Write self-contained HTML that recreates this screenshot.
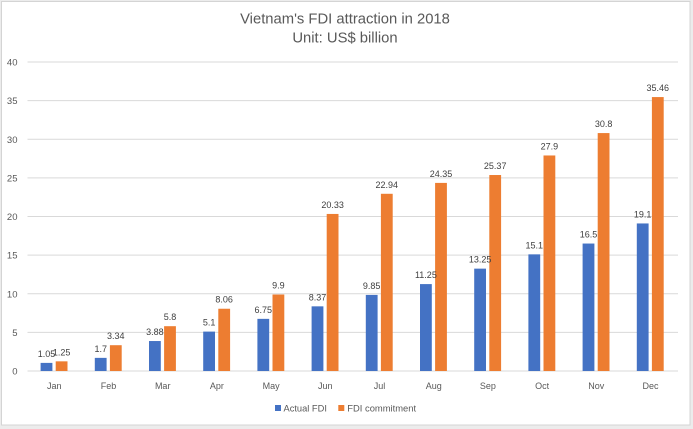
<!DOCTYPE html>
<html><head><meta charset="utf-8"><style>
html,body{margin:0;padding:0;background:#ececec;}
svg{display:block;}
text{font-family:"Liberation Sans",Arial,sans-serif;}
</style></head><body>
<svg width="693" height="429" viewBox="0 0 693 429" xmlns="http://www.w3.org/2000/svg">
<rect x="0" y="0" width="693" height="429" fill="#ececec"/>
<rect x="1.5" y="1.5" width="688.5" height="423.5" fill="#ffffff" stroke="#d4d4d4" stroke-width="1"/>
<text x="345" y="23.5" font-size="14.8" fill="#595959" text-anchor="middle">Vietnam's FDI attraction in 2018</text>
<text x="345" y="42.5" font-size="14.8" fill="#595959" text-anchor="middle">Unit: US$ billion</text>
<g stroke="#d9d9d9" stroke-width="1">
<line x1="27.5" y1="62" x2="678" y2="62"/>
<line x1="27.5" y1="100.6" x2="678" y2="100.6"/>
<line x1="27.5" y1="139.3" x2="678" y2="139.3"/>
<line x1="27.5" y1="177.9" x2="678" y2="177.9"/>
<line x1="27.5" y1="216.5" x2="678" y2="216.5"/>
<line x1="27.5" y1="255.1" x2="678" y2="255.1"/>
<line x1="27.5" y1="293.8" x2="678" y2="293.8"/>
<line x1="27.5" y1="332.4" x2="678" y2="332.4"/>
<line x1="27.5" y1="371" x2="678" y2="371"/>
</g>
<g font-size="9.5" fill="#595959" text-anchor="end">
<text x="17.5" y="65.5">40</text>
<text x="17.5" y="104.1">35</text>
<text x="17.5" y="142.8">30</text>
<text x="17.5" y="181.4">25</text>
<text x="17.5" y="220">20</text>
<text x="17.5" y="258.6">15</text>
<text x="17.5" y="297.3">10</text>
<text x="17.5" y="335.9">5</text>
<text x="17.5" y="374.5">0</text>
</g>
<g fill="#4472C4">
<rect x="40.6" y="362.89" width="11.8" height="8.11"/>
<rect x="94.8" y="357.87" width="11.8" height="13.13"/>
<rect x="149.0" y="341.03" width="11.8" height="29.97"/>
<rect x="203.2" y="331.60" width="11.8" height="39.40"/>
<rect x="257.4" y="318.86" width="11.8" height="52.14"/>
<rect x="311.6" y="306.34" width="11.8" height="64.66"/>
<rect x="365.8" y="294.91" width="11.8" height="76.09"/>
<rect x="420.0" y="284.09" width="11.8" height="86.91"/>
<rect x="474.2" y="268.64" width="11.8" height="102.36"/>
<rect x="528.4" y="254.35" width="11.8" height="116.65"/>
<rect x="582.6" y="243.54" width="11.8" height="127.46"/>
<rect x="636.8" y="223.45" width="11.8" height="147.55"/>
</g>
<g fill="#ED7D31">
<rect x="55.7" y="361.34" width="11.8" height="9.66"/>
<rect x="109.9" y="345.20" width="11.8" height="25.80"/>
<rect x="164.1" y="326.19" width="11.8" height="44.81"/>
<rect x="218.3" y="308.74" width="11.8" height="62.26"/>
<rect x="272.5" y="294.52" width="11.8" height="76.48"/>
<rect x="326.7" y="213.95" width="11.8" height="157.05"/>
<rect x="380.9" y="193.79" width="11.8" height="177.21"/>
<rect x="435.1" y="182.90" width="11.8" height="188.10"/>
<rect x="489.3" y="175.02" width="11.8" height="195.98"/>
<rect x="543.5" y="155.47" width="11.8" height="215.53"/>
<rect x="597.7" y="133.07" width="11.8" height="237.93"/>
<rect x="651.9" y="97.07" width="11.8" height="273.93"/>
</g>
<g font-size="9" fill="#404040" text-anchor="middle">
<text x="46.5" y="356.9">1.05</text>
<text x="100.7" y="351.9">1.7</text>
<text x="154.9" y="335.0">3.88</text>
<text x="209.1" y="325.6">5.1</text>
<text x="263.3" y="312.9">6.75</text>
<text x="317.5" y="300.3">8.37</text>
<text x="371.7" y="288.9">9.85</text>
<text x="425.9" y="278.1">11.25</text>
<text x="480.1" y="262.6">13.25</text>
<text x="534.3" y="248.3">15.1</text>
<text x="588.5" y="237.5">16.5</text>
<text x="642.7" y="217.4">19.1</text>
<text x="61.6" y="355.3">1.25</text>
<text x="115.8" y="339.2">3.34</text>
<text x="170.0" y="320.2">5.8</text>
<text x="224.2" y="302.7">8.06</text>
<text x="278.4" y="288.5">9.9</text>
<text x="332.6" y="207.9">20.33</text>
<text x="386.8" y="187.8">22.94</text>
<text x="441.0" y="176.9">24.35</text>
<text x="495.2" y="169.0">25.37</text>
<text x="549.4" y="149.5">27.9</text>
<text x="603.6" y="127.1">30.8</text>
<text x="657.8" y="91.1">35.46</text>
</g>
<g font-size="9" fill="#595959" text-anchor="middle">
<text x="54.3" y="389">Jan</text>
<text x="108.5" y="389">Feb</text>
<text x="162.7" y="389">Mar</text>
<text x="216.9" y="389">Apr</text>
<text x="271.1" y="389">May</text>
<text x="325.3" y="389">Jun</text>
<text x="379.5" y="389">Jul</text>
<text x="433.7" y="389">Aug</text>
<text x="487.9" y="389">Sep</text>
<text x="542.1" y="389">Oct</text>
<text x="596.3" y="389">Nov</text>
<text x="650.5" y="389">Dec</text>
</g>
<rect x="275" y="405" width="6" height="6" fill="#4472C4"/>
<text x="283.5" y="411.5" font-size="9.3" fill="#595959">Actual FDI</text>
<rect x="338.3" y="405" width="6" height="6" fill="#ED7D31"/>
<text x="347.3" y="411.5" font-size="9.4" fill="#595959">FDI commitment</text>
</svg>
</body></html>
